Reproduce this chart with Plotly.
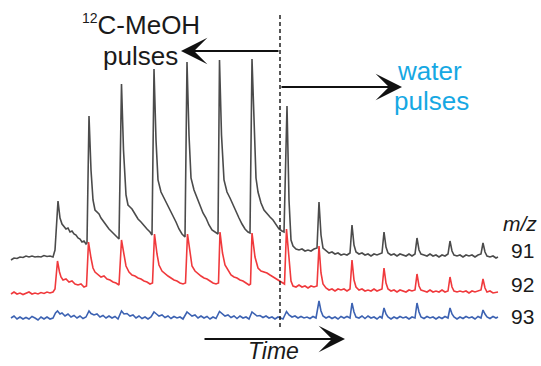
import plotly.graph_objects as go

# ---- measured signals: time (s) and intensity above each trace's own baseline (a.u.) ----
GRAY_T = [11, 14, 17, 20, 23, 26, 29, 32, 35, 38, 41, 44, 47, 50, 53,
          55, 58, 60, 62, 64, 66, 68, 70, 72, 74, 76, 78, 80, 82, 84, 86,
          87, 89, 91, 93, 95, 97, 99, 101, 103, 105, 107, 109, 111, 113, 115, 117, 119,
          121.5, 123.5, 126, 128, 130, 132, 135, 138, 141, 144, 147, 150, 152,
          154, 156, 158, 161, 164, 167, 170, 173, 176, 179, 182, 185,
          187, 189, 191, 194, 197, 200, 203, 206, 209, 212, 215, 218,
          219.5, 221.5, 224, 227, 230, 233, 236, 239, 242, 245, 248, 250,
          252, 254, 256, 258, 261, 264, 267, 270, 273, 276, 279, 282, 284,
          287, 289, 291, 293, 296, 299, 302, 305, 308, 311, 314, 317,
          319, 321, 323, 326, 329, 332, 335, 338, 341, 344, 347, 350,
          352, 354, 356, 359, 362, 365, 368, 371, 374, 377, 380, 382,
          384, 386, 388, 391, 394, 397, 400, 403, 406, 409, 412, 415,
          417, 419, 421, 424, 427, 430, 433, 436, 439, 442, 445, 448,
          450, 452, 454, 457, 460, 463, 466, 469, 472, 475, 478, 481,
          483, 485, 487, 490, 493, 496, 498]
GRAY_S = [-3, -1, -1.5, 0, -0.5, 1, 0, 1, 0, 0.5, 0, 1.5, 0.5, 1, 0,
          7, 56, 39, 33, 31, 28, 29, 25, 26, 23, 22, 19, 18, 15, 16, 13,
          14, 141, 87, 57, 47, 45, 43, 39, 36, 33, 30, 28, 26, 24, 21, 20, 18,
          173, 107, 62, 52, 50, 48, 43, 38, 35, 31, 28, 25, 22,
          188, 117, 77, 65, 59, 53, 48, 42, 35, 28, 23, 20,
          195, 122, 79, 67, 59, 51, 44, 39, 32, 27, 25, 23,
          197, 122, 77, 65, 59, 52, 45, 39, 33, 28, 25, 24,
          198, 127, 79, 65, 54, 47, 43, 40, 37, 32, 28, 26, 25,
          151, 57, 17, 11, 8, 7, 8, 6, 7, 6, 8, 9,
          55, 22, 9, 6, 4, 5, 3, 4, 2, 3, 2, 4,
          32, 12, 5, 3, 4, 2, 3, 1, 3, 2, 3, 4,
          25, 10, 4, 2, 3, 1, 3, 2, 1, 3, 1, 3,
          19, 7, 3, 2, 1, 3, 1, 2, 0, 2, 1, 3,
          16, 6, 2, 1, 2, 0, 2, 1, 2, 0, 2, 3,
          14, 5, 1, 0, 1, -1, 0]

RED_T = [11, 14, 17, 20, 23, 26, 29, 32, 35, 38, 41, 44, 47, 50, 53,
         55, 57.5, 59.5, 61, 63, 66, 69, 72, 75, 78, 81, 84, 86.5,
         88.5, 91, 93, 95, 98, 101, 104, 107, 110, 113, 116, 119,
         121.5, 124, 126, 129, 132, 135, 138, 141, 144, 147, 150, 152.5,
         154.5, 157, 159, 162, 165, 168, 171, 174, 177, 180, 183, 185.5,
         187.5, 190, 192, 195, 198, 201, 204, 207, 210, 213, 216, 218.5,
         220, 222.5, 225, 228, 231, 234, 237, 240, 243, 246, 249, 250.5,
         252, 255, 258, 261, 264, 267, 270, 273, 276, 279, 282, 284.5,
         286.5, 289, 291, 293, 296, 299, 302, 305, 308, 311, 314, 317,
         319, 321, 323, 326, 329, 332, 335, 338, 341, 344, 347, 350,
         352, 354, 356, 359, 362, 365, 368, 371, 374, 377, 380, 382,
         384, 386, 388, 391, 394, 397, 400, 403, 406, 409, 412, 415,
         417, 419, 421, 424, 427, 430, 433, 436, 439, 442, 445, 448,
         450, 452, 454, 457, 460, 463, 466, 469, 472, 475, 478, 481,
         483, 485, 487, 490, 493, 496, 498]
RED_S = [-1, 1, -1, 0, -1.5, 0, 1, -1, 0, -1, 0.5, -0.5, 1, 0, 1,
         4, 32, 21, 16, 13, 14, 11, 12, 9, 8, 9, 6, 7,
         51, 35, 25, 21, 18, 16, 17, 14, 13, 11, 10, 8,
         53, 37, 27, 21, 18, 17, 15, 14, 12, 11, 9, 10,
         59, 39, 28, 22, 19, 17, 15, 13, 12, 10, 9, 10,
         59, 39, 27, 22, 19, 17, 15, 14, 12, 10, 9, 10,
         61, 40, 28, 23, 18, 16, 15, 13, 12, 10, 8, 9,
         60, 36, 25, 22, 21, 20, 18, 16, 14, 12, 10, 9,
         64, 30, 12, 7, 6, 8, 6, 7, 5, 7, 6, 7,
         47, 20, 9, 5, 3, 4, 2, 4, 3, 4, 2, 4,
         33, 13, 6, 3, 4, 2, 3, 2, 4, 2, 3, 4,
         25, 10, 4, 2, 3, 1, 3, 2, 1, 3, 2, 3,
         19, 7, 3, 2, 1, 3, 1, 2, 1, 3, 1, 2,
         16, 6, 2, 1, 2, 1, 2, 0, 2, 1, 2, 3,
         14, 5, 1, 2, 0, 1, 1]

BLUE_T = [11, 14, 17, 20, 23, 26, 29, 32, 35, 38, 41, 44, 47, 50, 53,
          55.5, 57.5, 60, 62, 65, 68, 71, 74, 77, 80, 83, 86,
          89, 91, 94, 97, 100, 103, 106, 109, 112, 115, 118,
          121.5, 124, 127, 130, 133, 136, 139, 142, 145, 148, 151,
          154, 156.5, 159, 162, 165, 168, 171, 174, 177, 180, 183,
          187, 189.5, 192, 195, 198, 201, 204, 207, 210, 213, 216,
          219.5, 222, 225, 228, 231, 234, 237, 240, 243, 246, 249,
          252, 254.5, 257, 260, 263, 266, 269, 272, 275, 278, 281, 283,
          286.5, 289, 292, 295, 298, 301, 304, 307, 310, 313, 316,
          319, 321, 323, 326, 329, 332, 335, 338, 341, 344, 347, 350,
          352, 354, 356, 359, 362, 365, 368, 371, 374, 377, 380, 382,
          384, 386, 388, 391, 394, 397, 400, 403, 406, 409, 412, 415,
          417, 419, 421, 424, 427, 430, 433, 436, 439, 442, 445, 448,
          450, 452, 454, 457, 460, 463, 466, 469, 472, 475, 478, 481,
          483, 485, 487, 490, 493, 496, 498]
BLUE_S = [0, 2, -1, 1, -1, 0.5, -1, 1.5, 0, -2, 1, -1, 1, -1, 0,
          5, 7, 4, 5, 2, 4, 1, 2.5, 0, 2, -0.5, 1,
          7, 4.5, 3, 4, 1, 2.5, 0, 2, 0, 1.5, -1,
          7, 4, 4.5, 2, 3, 0, 2, -0.5, 1, -1, 1,
          6, 4, 2, 3, 0.5, 2, -0.5, 1.5, 0, 1, -1,
          6, 4, 2, 3, 0, 2, 0, 1.5, -1, 1, -0.5,
          6.5, 4, 2, 3, 0.5, 2, -0.5, 2, 0, 1, -1,
          6, 4, 2, 2.5, 0.5, 2, 0, 1, -1, 1, 0, -1,
          6.5, 3, 1, 2, 0, 1.5, 0, 1, -0.5, 1.5, 0,
          17, 7, 2, 0, 1.5, -0.5, 1, -1, 1.5, 0, 1.5, 0,
          15, 6, 1, 0, 2, -0.5, 2, 0, 1, -1, 1.5, 0,
          10, 4, 1, -1, 1, -0.5, 1.5, 0, 1, -1, 1, 0,
          15, 6, 1, -0.5, 1.5, 0, 1, -1, 1, -0.5, 1.5, 0,
          10, 4, 1, -1, 1, -0.5, 1.5, 0, 1, -1, 1.5, 0,
          8, 4, 1, -0.5, 1.5, 0, 1]

MZ_LABELS = ["91", "92", "93"]
SWITCH_T = 280          # feed switched from 12C-MeOH to water
MEOH_ARROW_END = 181
WATER_ARROW_END = 402
TIME_ARROW = (203, 345)

# ---- styling / layout ----
W, H = 541, 366
X_RANGE = [0, 541]
Y_RANGE = [-48, 318]
STACK = [61, 25, 0]     # vertical offset of each m/z trace
COLORS = ["#4b4b4b", "#f0393c", "#3c62b2"]
FONT = "Liberation Sans, Arial, Helvetica, sans-serif"
CYAN = "#16a8e3"

fig = go.Figure()
for lab, t, s, off, col in zip(MZ_LABELS,
                               [GRAY_T, RED_T, BLUE_T],
                               [GRAY_S, RED_S, BLUE_S],
                               STACK, COLORS):
    fig.add_trace(go.Scatter(
        x=t, y=[v + off for v in s], mode="lines", name="m/z " + lab,
        line=dict(color=col, width=1.6), hoverinfo="skip", showlegend=False))

# switch marker
fig.add_shape(type="line", xref="x", yref="y",
              x0=SWITCH_T, x1=SWITCH_T, y0=-9, y1=306,
              line=dict(color="#111111", width=1.4, dash="4px,3px"))


def px(x, y):
    return x / W, 1 - y / H


def text(s, x, y, size, color="#1a1a1a", italic=False):
    xp, yp = px(x, y)
    fig.add_annotation(
        text=s, x=xp, y=yp, xref="paper", yref="paper", showarrow=False,
        xanchor="center", yanchor="middle",
        font=dict(family=FONT, size=size, color=color,
                  style="italic" if italic else "normal"))


def arrow(x_head, x_tail, y):
    fig.add_annotation(
        x=x_head, y=y, ax=x_tail, ay=y, xref="x", yref="y", axref="x", ayref="y",
        text="", showarrow=True, arrowhead=3, arrowsize=2.2, arrowwidth=2,
        arrowcolor="#111111")


arrow(MEOH_ARROW_END, SWITCH_T, 267)
arrow(WATER_ARROW_END, SWITCH_T, 231)
arrow(TIME_ARROW[1], TIME_ARROW[0], -21)

text('<sup><span style="font-size:14px">12</span></sup>C-MeOH', 141, 25, 26)
text("pulses", 140, 55.5, 26)
text("water", 429, 70.5, 26, color=CYAN)
text("pulses", 431, 100.5, 26, color=CYAN)
text("Time", 273, 351, 23, italic=True)
text("m/z", 520, 223, 21, italic=True)
for lab, yy in zip(MZ_LABELS, [250, 284, 316]):
    text(lab, 522, yy, 21)

fig.update_layout(
    width=W, height=H, margin=dict(l=0, r=0, t=0, b=0),
    paper_bgcolor="white", plot_bgcolor="white", showlegend=False,
    xaxis=dict(range=X_RANGE, visible=False, fixedrange=True),
    yaxis=dict(range=Y_RANGE, visible=False, fixedrange=True),
)

fig.write_html("out.html")
